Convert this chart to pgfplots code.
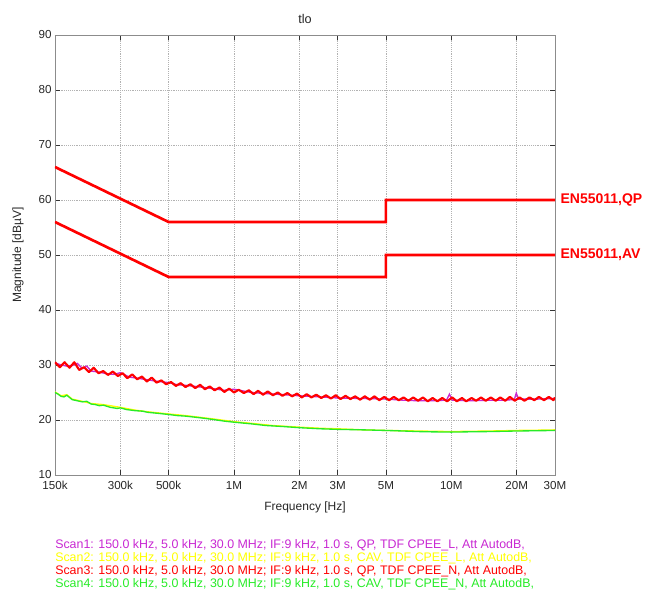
\documentclass[border=0pt]{standalone}
\usepackage{pgfplots}
\pgfplotsset{compat=1.18}
\usepackage{fontspec}
\setmainfont{Liberation Sans}
\definecolor{scanm}{RGB}{200,40,210}
\definecolor{scany}{RGB}{255,255,0}
\definecolor{scanr}{RGB}{255,0,0}
\definecolor{scang}{RGB}{40,235,40}
\definecolor{limred}{RGB}{255,0,0}
\begin{document}
\begin{tikzpicture}
\useasboundingbox (-41.25pt,-87.75pt) rectangle (444pt,356.25pt);
\begin{axis}[
  at={(0pt,0pt)}, anchor=south west,
  scale only axis, width=375pt, height=330pt,
  xmode=log, xmin=0.15, xmax=30, ymin=10, ymax=90,
  xtick={0.15,0.3,0.5,1,2,3,5,10,20,30},
  xticklabels={150k,300k,500k,1M,2M,3M,5M,10M,20M,30M},
  ytick={10,20,30,40,50,60,70,80,90},
  yticklabels={10,20,30,40,50,60,70,80,90},
  xminorticks=false,
  grid=major, major grid style={densely dotted, black!30},
  tick align=inside, major tick length=3.5pt,
  axis line style={black!45, line width=0.6pt},
  tick style={black!80, line width=0.6pt},
  tick label style={font=\fontsize{8.7}{10}\selectfont, text=black!85},
  xticklabel style={yshift=-1pt},
  yticklabel style={xshift=1pt},
  clip=true,
]
% Scan1 (QP, L) magenta
\addplot[scanm, line width=1pt] coordinates {
(0.15,30.4)(0.16,30.0)(0.17,29.8)(0.18,29.9)(0.19,30.3)(0.2,29.4)(0.21,29.8)(0.22,28.9)
(0.24,28.7)(0.26,28.4)(0.28,28.3)(0.3,28.6)(0.33,27.8)(0.36,27.6)(0.4,27.3)(0.45,27.0)
(0.5,26.8)(0.55,26.4)(0.6,26.3)(0.7,26.0)(0.8,25.7)(0.9,25.4)(1.0,25.6)(1.2,25.0)
(1.4,24.8)(1.7,24.6)(2.0,24.4)(2.5,24.2)(3.0,24.0)(4.0,23.9)(5.0,23.8)(6.0,23.6)
(7.0,23.5)(8.0,23.5)(9.5,23.6)(9.8,24.7)(10.1,23.6)(12,23.5)(15,23.6)(17,23.6)
(19.5,23.7)(19.9,24.9)(20.4,23.8)(25,23.8)(30,23.9)};
% Scan3 (QP, N) red
\addplot[scanr, line width=1.6pt, line join=round] coordinates {
(0.150,30.5)(0.158,29.6)(0.166,30.5)(0.175,29.5)(0.184,30.5)(0.194,29.1)(0.204,29.6)(0.215,28.7)
(0.226,29.5)(0.238,28.5)(0.250,28.9)(0.263,28.2)(0.277,28.8)(0.292,28.0)(0.307,28.5)(0.323,27.6)
(0.340,28.3)(0.358,27.4)(0.377,27.9)(0.397,27.0)(0.418,27.7)(0.440,26.8)(0.463,27.2)(0.487,26.5)
(0.513,26.9)(0.540,26.2)(0.568,26.7)(0.598,26.0)(0.630,26.5)(0.663,25.8)(0.698,26.4)(0.735,25.6)
(0.773,26.1)(0.814,25.4)(0.857,25.9)(0.902,25.1)(0.950,25.7)(1.00,25.0)(1.05,25.5)(1.11,24.9)
(1.17,25.4)(1.23,24.7)(1.29,25.3)(1.36,24.6)(1.43,25.2)(1.51,24.5)(1.59,25.0)(1.67,24.4)
(1.76,24.9)(1.85,24.3)(1.95,24.8)(2.05,24.1)(2.16,24.7)(2.27,24.1)(2.39,24.6)(2.52,24.0)
(2.65,24.5)(2.79,23.9)(2.94,24.5)(3.09,23.8)(3.26,24.4)(3.43,23.8)(3.61,24.3)(3.80,23.7)
(4.00,24.3)(4.21,23.7)(4.43,24.3)(4.66,23.6)(4.91,24.2)(5.17,23.6)(5.44,24.2)(5.73,23.6)
(6.03,24.1)(6.34,23.5)(6.68,24.1)(7.03,23.5)(7.40,24.1)(7.79,23.4)(8.20,24.0)(8.63,23.4)
(9.08,24.0)(9.56,23.4)(10.1,24.1)(10.6,23.4)(11.2,24.0)(11.7,23.4)(12.4,24.0)(13.0,23.5)
(13.7,24.1)(14.4,23.5)(15.2,24.1)(16.0,23.5)(16.8,24.1)(17.7,23.5)(18.6,24.2)(19.6,23.5)
(20.6,24.1)(21.7,23.5)(22.9,24.1)(24.1,23.6)(25.3,24.2)(26.7,23.6)(28.1,24.2)(29.5,23.6)(30.0,24.1)};
% Scan2 (AV, L) yellow
\addplot[scany, line width=1pt] coordinates {
(0.15,25.1)(0.16,24.4)(0.17,24.6)(0.18,23.8)(0.2,23.4)(0.22,23.0)(0.25,22.8)(0.3,22.3)
(0.35,21.8)(0.4,21.5)(0.5,21.1)(0.6,20.8)(0.8,20.2)(1.0,19.7)(1.2,19.4)(1.5,19.0)
(2.0,18.7)(2.5,18.5)(3.0,18.4)(4.0,18.2)(5.0,18.1)(7.0,18.0)(10,17.9)(15,18.0)
(20,18.1)(25,18.15)(30,18.2)};
% Scan4 (AV, N) green
\addplot[scang, line width=1pt] coordinates {
(0.150,25.0)(0.155,24.7)(0.16,24.3)(0.165,24.2)(0.17,24.5)(0.175,24.1)(0.18,23.7)(0.19,23.5)
(0.2,23.3)(0.21,23.4)(0.22,22.9)(0.23,22.8)(0.24,22.6)(0.25,22.7)(0.27,22.3)(0.29,22.1)
(0.3,22.2)(0.32,21.9)(0.35,21.7)(0.38,21.6)(0.4,21.4)(0.45,21.2)(0.5,21.0)(0.55,20.8)
(0.6,20.7)(0.7,20.4)(0.8,20.1)(0.9,19.8)(1.0,19.6)(1.2,19.3)(1.4,19.0)(1.7,18.8)
(2.0,18.6)(2.5,18.4)(3.0,18.3)(4.0,18.2)(5.0,18.1)(6.0,18.0)(7.0,17.9)(8.0,17.85)
(10,17.8)(12,17.85)(15,17.9)(20,18.0)(25,18.05)(30,18.1)};
% Limit lines
\addplot[limred, line width=2pt] coordinates {(0.15,66)(0.5,56)(5,56)(5,60)(30,60)};
\addplot[limred, line width=2pt] coordinates {(0.15,56)(0.5,46)(5,46)(5,50)(30,50)};
\end{axis}
\node[anchor=west, text=limred, font=\fontsize{10.5}{12}\selectfont\bfseries, inner sep=0pt] at (379pt,206.25pt) {EN55011,QP};
\node[anchor=west, text=limred, font=\fontsize{10.5}{12}\selectfont\bfseries, inner sep=0pt] at (379pt,165pt) {EN55011,AV};
\node[font=\fontsize{9.5}{11}\selectfont, text=black!85] at (187.5pt,342pt) {tlo};
\node[font=\fontsize{9}{11}\selectfont, text=black!85] at (187.5pt,-24pt) {Frequency [Hz]};
\node[font=\fontsize{9}{11}\selectfont, text=black!85, rotate=90] at (-27.75pt,165pt) {Magnitude [dBµV]};
\begin{scope}[every node/.style={anchor=west, inner sep=0pt, font=\fontsize{9.3}{11}\selectfont}]
\node[text=scanm] at (0pt,-52.5pt) {Scan1: 150.0 kHz, 5.0 kHz, 30.0 MHz; IF:9 kHz, 1.0 s, QP, TDF CPEE\_L, Att AutodB,};
\node[text=scany] at (0pt,-62.25pt) {Scan2: 150.0 kHz, 5.0 kHz, 30.0 MHz; IF:9 kHz, 1.0 s, CAV, TDF CPEE\_L, Att AutodB,};
\node[text=scanr] at (0pt,-72pt) {Scan3: 150.0 kHz, 5.0 kHz, 30.0 MHz; IF:9 kHz, 1.0 s, QP, TDF CPEE\_N, Att AutodB,};
\node[text=scang] at (0pt,-81.75pt) {Scan4: 150.0 kHz, 5.0 kHz, 30.0 MHz; IF:9 kHz, 1.0 s, CAV, TDF CPEE\_N, Att AutodB,};
\end{scope}
\end{tikzpicture}
\end{document}
